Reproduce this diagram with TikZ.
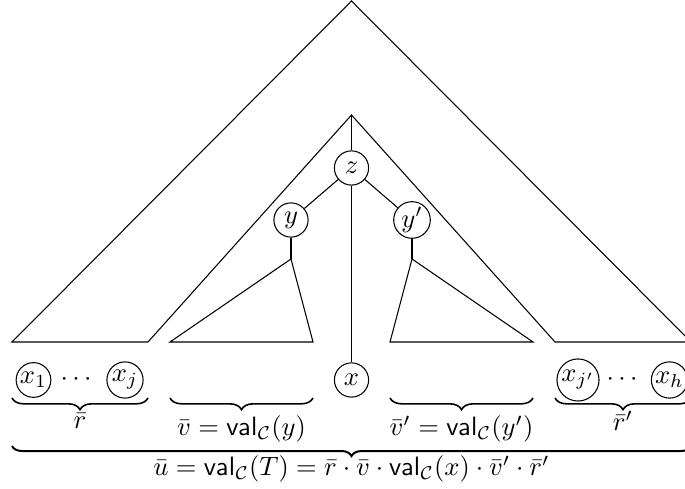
\documentclass[tikz,border=0pt]{standalone}
\usetikzlibrary{decorations.pathreplacing}
\begin{document}
\begin{tikzpicture}[x=0.377pt,y=-0.377pt,
  vnode/.style={circle,draw,minimum size=12.9pt,inner sep=0.5pt},
  brc/.style={decorate,decoration={brace,mirror,amplitude=4.4pt},line width=0.6pt},
  bigbrc/.style={decorate,decoration={brace,mirror,amplitude=3.8pt},line width=0.75pt},
  lbl/.style={inner sep=0pt}]
\useasboundingbox (0,0) rectangle (685,489);
% outer shape
\coordinate (top) at (351.5,1);
\coordinate (ol) at (12,342);
\coordinate (or) at (691,342);
\coordinate (il) at (148,342);
\coordinate (ir) at (555,342);
\coordinate (ia) at (351.5,115);
\draw (ol) -- (top) -- (or) -- (ir) -- (ia) -- (il) -- cycle;
% nodes
\node[vnode] (z) at (351.5,168) {$z$};
\node[vnode] (y) at (291,220) {$y$};
\node[vnode] (yp) at (412,220) {$y'$};
\node[vnode] (x) at (351.5,380) {$x$};
\node[vnode] (x1) at (33.5,380) {$x_1$};
\node (d1) at (76,380) {$\cdots$};
\node[vnode] (xj) at (125,380) {$x_j$};
\node[vnode] (xjp) at (578,380) {$x_{j'}$};
\node (d2) at (622,380) {$\cdots$};
\node[vnode] (xh) at (669.5,380) {$x_h$};
% edges
\draw (ia) -- (z);
\draw (z) -- (x);
\draw (z) -- (y);
\draw (z) -- (yp);
% subtrees
\coordinate (ya) at (291,259);
\coordinate (yl) at (170,342);
\coordinate (yr) at (313,342);
\draw (y) -- (ya);
\draw (ya) -- (yl) -- (yr) -- cycle;
\coordinate (ypa) at (412,259);
\coordinate (ypl) at (390,342);
\coordinate (ypr) at (533,342);
\draw (yp) -- (ypa);
\draw (ypa) -- (ypl) -- (ypr) -- cycle;
% braces
\coordinate (b1l) at (12,398);  \coordinate (b1r) at (148,398);
\coordinate (b2l) at (170,398); \coordinate (b2r) at (313,398);
\coordinate (b3l) at (390,398); \coordinate (b3r) at (533,398);
\coordinate (b4l) at (555,398); \coordinate (b4r) at (691,398);
\coordinate (b5l) at (12,446);  \coordinate (b5r) at (691,446);
\draw[brc] (b1l) -- (b1r);
\draw[brc] (b2l) -- (b2r);
\draw[brc] (b3l) -- (b3r);
\draw[brc] (b4l) -- (b4r);
\draw[bigbrc] (b5l) -- (b5r);
\node[lbl] (lr) at (80,421) {$\bar r$};
\node[lbl] (lv) at (241.5,429) {$\bar v = \mathsf{val}_{\mathcal{C}}(y)$};
\node[lbl] (lvp) at (461.5,429) {$\bar v' = \mathsf{val}_{\mathcal{C}}(y')$};
\node[lbl] (lrp) at (623,421) {$\bar r'$};
\node[lbl] (lu) at (351.5,469) {$\bar u = \mathsf{val}_{\mathcal{C}}(T) = \bar r \cdot \bar v \cdot \mathsf{val}_{\mathcal{C}}(x) \cdot \bar v' \cdot \bar r'$};
\end{tikzpicture}
\end{document}
